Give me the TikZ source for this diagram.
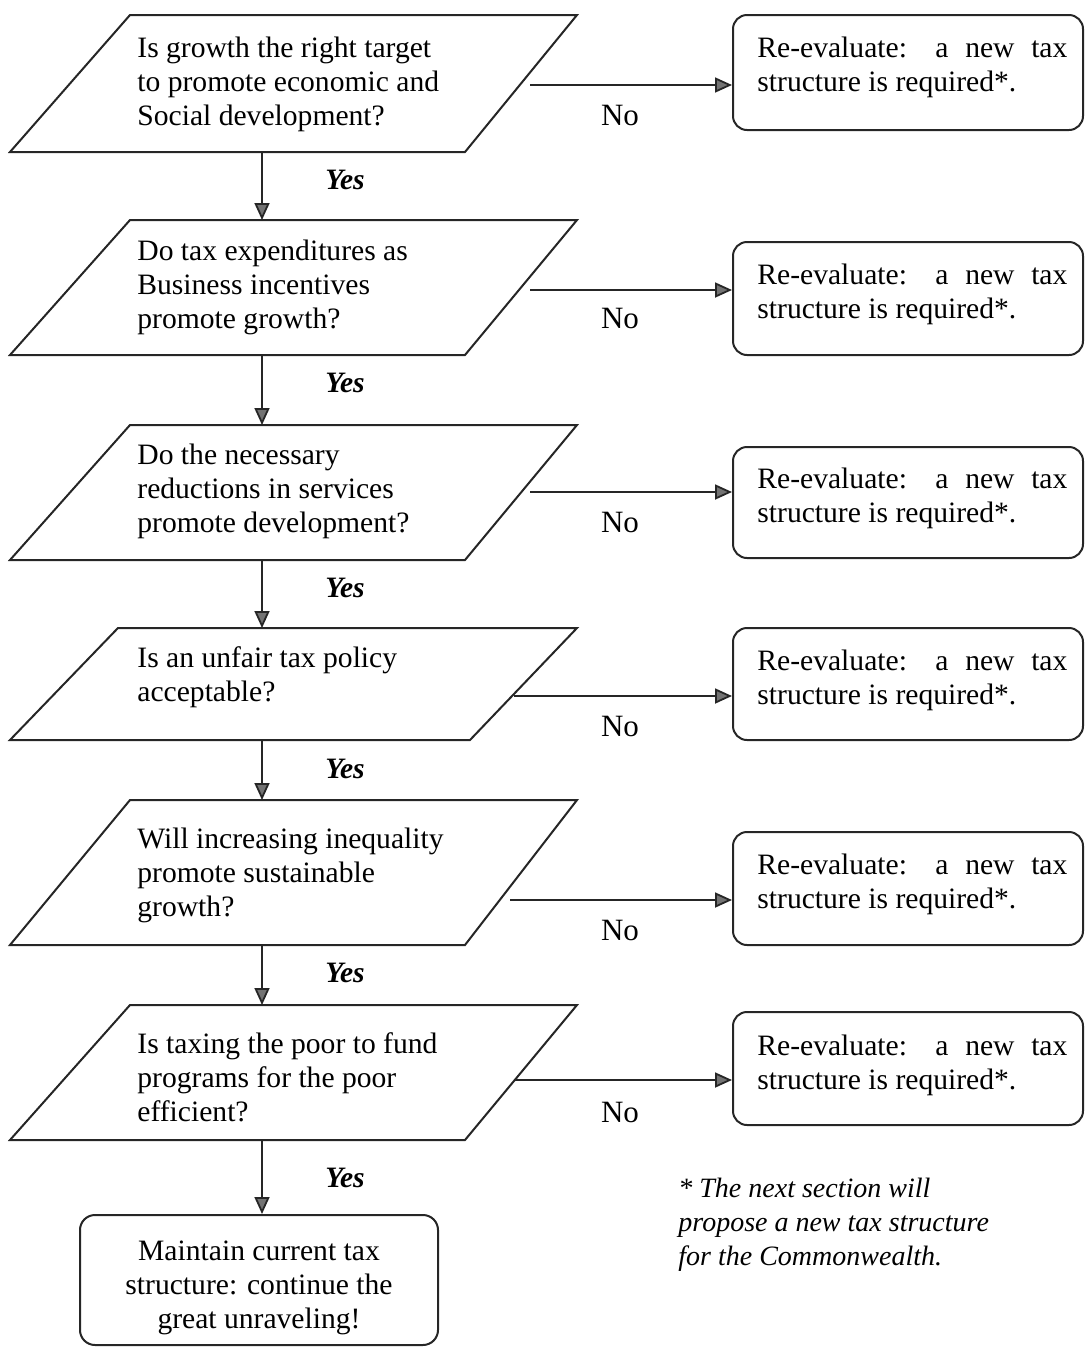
\documentclass[tikz,border=0pt]{standalone}
\usepackage{fontspec}
\setmainfont{Liberation Serif}
\usetikzlibrary{arrows.meta}
\begin{document}
\begin{tikzpicture}[x=0.5pt,y=-0.5pt,
  font=\fontsize{14.8}{17}\selectfont,
  ln/.style={draw=black!85, line width=1pt, line join=miter},
  qtxt/.style={anchor=base west, align=left, inner sep=0pt},
  rbox/.style={draw=black!85, line width=1pt, rounded corners=7pt, minimum width=175pt, inner sep=0pt},
  rtxt/.style={anchor=base west, align=left, inner sep=0pt},
  arr/.style={draw=black!85, line width=0.9pt, -{Triangle[length=8.5pt,width=7.5pt,fill=black!55]}},
  yes/.style={font=\fontsize{14.8}{17}\selectfont\bfseries\itshape, inner sep=0pt},
  no/.style={font=\fontsize{15.5}{17}\selectfont, inner sep=0pt},
]
\useasboundingbox (0,0) rectangle (1084,1350);

% ---------- decision parallelograms ----------
\draw[ln] (130,15) -- (577,15) -- (465,152) -- (10,152) -- cycle;
\draw[ln] (130,220) -- (577,220) -- (465,355) -- (10,355) -- cycle;
\draw[ln] (130,425) -- (577,425) -- (465,560) -- (10,560) -- cycle;
\draw[ln] (118,628) -- (577,628) -- (470,740) -- (10,740) -- cycle;
\draw[ln] (130,800) -- (577,800) -- (465,945) -- (10,945) -- cycle;
\draw[ln] (130,1005) -- (577,1005) -- (465,1140) -- (10,1140) -- cycle;

% (base anchor = baseline of the last line)
\node[qtxt] (q1) at (137,125)  {Is growth the right target\\to promote economic and\\Social development?};
\node[qtxt] (q2) at (137,328)  {Do tax expenditures as\\Business incentives\\promote growth?};
\node[qtxt] (q3) at (137,532)  {Do the necessary\\reductions in services\\promote development?};
\node[qtxt] (q4) at (137,701)  {Is an unfair tax policy\\acceptable?};
\node[qtxt] (q5) at (137,916)  {Will increasing inequality\\promote sustainable\\growth?};
\node[qtxt] (q6) at (137,1121) {Is taxing the poor to fund\\programs for the poor\\efficient?};

% connector coordinates on the shapes
\coordinate (b1) at (262,152);  \coordinate (t2) at (262,220);
\coordinate (b2) at (262,355);  \coordinate (t3) at (262,425);
\coordinate (b3) at (262,560);  \coordinate (t4) at (262,628);
\coordinate (b4) at (262,740);  \coordinate (t5) at (262,800);
\coordinate (b5) at (262,945);  \coordinate (t6) at (262,1005);
\coordinate (b6) at (262,1140);

\coordinate (o1) at (530,85);
\coordinate (o2) at (530,290);
\coordinate (o3) at (530,492);
\coordinate (o4) at (514,696);
\coordinate (o5) at (510,900);
\coordinate (o6) at (514,1080);

% ---------- re-evaluate boxes ----------
\newcommand\reeval{\makebox[155pt][s]{Re-evaluate: a new tax}\\structure is required*.}
\node[rbox, minimum height=57.5pt] (r1) at (908,72.5) {};
\node[rbox, minimum height=56.5pt] (r2) at (908,298.5) {};
\node[rbox, minimum height=55.5pt] (r3) at (908,502.5) {};
\node[rbox, minimum height=56pt]   (r4) at (908,684) {};
\node[rbox, minimum height=56.5pt] (r5) at (908,888.5) {};
\node[rbox, minimum height=56.5pt] (r6) at (908,1068.5) {};

\node[rtxt] (r1t) at (757,91)   {\reeval};
\node[rtxt] (r2t) at (757,318)  {\reeval};
\node[rtxt] (r3t) at (757,522)  {\reeval};
\node[rtxt] (r4t) at (757,704)  {\reeval};
\node[rtxt] (r5t) at (757,908)  {\reeval};
\node[rtxt] (r6t) at (757,1089) {\reeval};

% ---------- final box ----------
\node[draw=black!85, line width=1pt, rounded corners=7.5pt, minimum width=179pt, minimum height=65pt,
      inner sep=0pt] (m) at (259,1280) {};
\node[align=center, inner sep=0pt] (mt) at (259,1288)
  {Maintain current tax\\structure: continue the\\great unraveling!};

% ---------- connectors ----------
\draw[arr] (b1) -- (t2);
\draw[arr] (b2) -- (t3);
\draw[arr] (b3) -- (t4);
\draw[arr] (b4) -- (t5);
\draw[arr] (b5) -- (t6);
\draw[arr] (b6) -- (b6 |- m.north);

\draw[arr] (o1) -- (o1 -| r1.west);
\draw[arr] (o2) -- (o2 -| r2.west);
\draw[arr] (o3) -- (o3 -| r3.west);
\draw[arr] (o4) -- (o4 -| r4.west);
\draw[arr] (o5) -- (o5 -| r5.west);
\draw[arr] (o6) -- (o6 -| r6.west);

% ---------- labels ----------
\node[yes] (y1) at (345,180)  {Yes};
\node[yes] (y2) at (345,383)  {Yes};
\node[yes] (y3) at (345,588)  {Yes};
\node[yes] (y4) at (345,769)  {Yes};
\node[yes] (y5) at (345,973)  {Yes};
\node[yes] (y6) at (345,1178) {Yes};

\node[no] (n1) at (620,115)  {No};
\node[no] (n2) at (620,318)  {No};
\node[no] (n3) at (620,522)  {No};
\node[no] (n4) at (620,726)  {No};
\node[no] (n5) at (620,930)  {No};
\node[no] (n6) at (620,1112) {No};

% ---------- footnote ----------
\node[anchor=base west, align=left, inner sep=0pt, font=\fontsize{14}{17}\selectfont\itshape] (fn) at (678,1265)
  {* The next section will\\propose a new tax structure\\for the Commonwealth.};
\end{tikzpicture}
\end{document}
